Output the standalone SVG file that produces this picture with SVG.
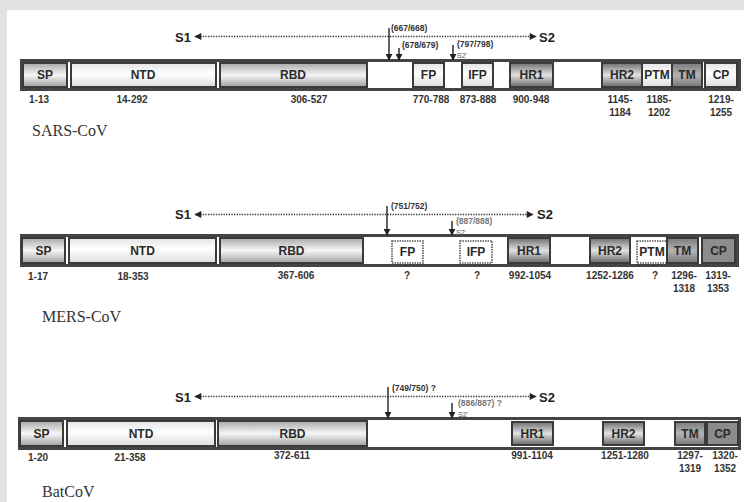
<svg xmlns="http://www.w3.org/2000/svg" width="744" height="502" viewBox="0 0 744 502">
<defs>
<linearGradient id="gLight" x1="0" y1="0" x2="0" y2="1"><stop offset="0" stop-color="#e4e4e4"/><stop offset="0.45" stop-color="#ffffff"/><stop offset="1" stop-color="#dcdcdc"/></linearGradient>
<linearGradient id="gMid" x1="0" y1="0" x2="0" y2="1"><stop offset="0" stop-color="#a8a8a8"/><stop offset="0.5" stop-color="#f6f6f6"/><stop offset="1" stop-color="#a0a0a0"/></linearGradient>
<linearGradient id="gDark" x1="0" y1="0" x2="0" y2="1"><stop offset="0" stop-color="#6e6e6e"/><stop offset="0.5" stop-color="#e2e2e2"/><stop offset="1" stop-color="#666666"/></linearGradient>
<linearGradient id="gTM" x1="0" y1="0" x2="0" y2="1"><stop offset="0" stop-color="#7a7a7a"/><stop offset="0.5" stop-color="#b4b4b4"/><stop offset="1" stop-color="#777777"/></linearGradient>
<marker id="ah" viewBox="0 0 10 10" refX="9" refY="5" markerWidth="9" markerHeight="7" orient="auto-start-reverse" markerUnits="userSpaceOnUse"><path d="M0,0 L10,5 L0,10 z" fill="#222"/></marker>
<marker id="ch" viewBox="0 0 10 10" refX="9" refY="5" markerWidth="7" markerHeight="7" orient="auto" markerUnits="userSpaceOnUse"><path d="M0,0 L10,5 L0,10 z" fill="#222"/></marker>
</defs>
<style>
.bar{fill:#ffffff;stroke:#444;stroke-width:3}
.box{stroke:#3a3a3a;stroke-width:2}
.dash{fill:#ffffff;stroke:#555;stroke-width:1.6;stroke-dasharray:1.5,1}
.dl{font-family:"Liberation Sans",Arial,sans-serif;font-weight:bold;font-size:12px;fill:#2a2a2a;text-anchor:middle}
.num{font-family:"Liberation Sans",Arial,sans-serif;font-weight:bold;font-size:10px;fill:#333;text-anchor:middle}
.sl{font-family:"Liberation Sans",Arial,sans-serif;font-weight:bold;font-size:13px;fill:#222}
.cl{font-family:"Liberation Sans",Arial,sans-serif;font-weight:bold;font-size:8.5px;fill:#333}
.faint{fill:#777}
.s2p{font-family:"Liberation Sans",Arial,sans-serif;font-size:7px;fill:#555}
.name{font-family:"Liberation Serif","Times New Roman",serif;font-size:16px;fill:#333}
.dot{stroke:#333;stroke-width:1.4;stroke-dasharray:1.3,1.3;fill:none}
.arr{stroke:#222;stroke-width:1.4;fill:none}
</style>
<rect x="0" y="0" width="744" height="502" fill="#e2e2e2"/>
<rect x="7" y="10" width="737" height="492" fill="#ffffff"/>

<!-- SARS-CoV -->
<g id="sars">
<rect class="bar" x="21.5" y="60.5" width="718" height="29"/>
<g id="sars-sp"><rect class="box" x="23" y="63" width="44" height="24" fill="url(#gMid)"/><text class="dl" x="45" y="79">SP</text></g>
<g id="sars-ntd"><rect class="box" x="71" y="63" width="145" height="24" fill="url(#gLight)"/><text class="dl" x="143" y="79">NTD</text></g>
<g id="sars-rbd"><rect class="box" x="220" y="63" width="147" height="24" fill="url(#gMid)"/><text class="dl" x="293" y="79">RBD</text></g>
<g id="sars-fp"><rect class="box" x="413" y="63" width="31" height="24" fill="url(#gLight)"/><text class="dl" x="428.5" y="79">FP</text></g>
<g id="sars-ifp"><rect class="box" x="462" y="63" width="31" height="24" fill="url(#gLight)"/><text class="dl" x="477.5" y="79">IFP</text></g>
<g id="sars-hr1"><rect class="box" x="510" y="63" width="43" height="24" fill="url(#gDark)"/><text class="dl" x="531.5" y="79">HR1</text></g>
<g id="sars-hr2"><rect class="box" x="602" y="63" width="40" height="24" fill="url(#gDark)"/><text class="dl" x="622" y="79">HR2</text></g>
<g id="sars-ptm"><rect class="box" x="642" y="63" width="30" height="24" fill="url(#gLight)"/><text class="dl" x="657" y="79">PTM</text></g>
<g id="sars-tm"><rect class="box" x="672" y="63" width="30" height="24" fill="url(#gTM)"/><text class="dl" x="687" y="79">TM</text></g>
<g id="sars-cp"><rect class="box" x="705" y="63" width="32" height="24" fill="url(#gLight)"/><text class="dl" x="721" y="79">CP</text></g>
<text class="num" x="39" y="103">1-13</text>
<text class="num" x="132" y="103">14-292</text>
<text class="num" x="309" y="103">306-527</text>
<text class="num" x="431" y="103">770-788</text>
<text class="num" x="478" y="103">873-888</text>
<text class="num" x="531" y="103">900-948</text>
<text class="num" x="620" y="103">1145-</text><text class="num" x="620" y="116">1184</text>
<text class="num" x="659" y="103">1185-</text><text class="num" x="659" y="116">1202</text>
<text class="num" x="721" y="103">1219-</text><text class="num" x="721" y="116">1255</text>
<text class="sl" x="175" y="41.5">S1</text>
<text class="sl" x="539" y="41.5">S2</text>
<text class="cl" x="391" y="31">(667/668)</text>
<text class="cl" x="402" y="48">(678/679)</text>
<text class="cl" x="457" y="47">(797/798)</text>
<text class="s2p" x="457" y="58">S2'</text>
<text class="name" x="32" y="136">SARS-CoV</text>
</g>

<!-- MERS-CoV -->
<g id="mers">
<rect class="bar" x="21.5" y="235.5" width="716" height="30"/>
<g id="mers-sp"><rect class="box" x="22" y="238" width="43" height="25" fill="url(#gMid)"/><text class="dl" x="43.5" y="255">SP</text></g>
<g id="mers-ntd"><rect class="box" x="69" y="238" width="147" height="25" fill="url(#gLight)"/><text class="dl" x="142.5" y="255">NTD</text></g>
<g id="mers-rbd"><rect class="box" x="220" y="238" width="143" height="25" fill="url(#gMid)"/><text class="dl" x="291.5" y="255">RBD</text></g>
<g id="mers-fp"><rect class="dash" x="392" y="241" width="31" height="22"/><text class="dl" x="407.5" y="256">FP</text></g>
<g id="mers-ifp"><rect class="dash" x="460" y="241" width="32" height="22"/><text class="dl" x="476" y="256">IFP</text></g>
<g id="mers-hr1"><rect class="box" x="508" y="238" width="42" height="25" fill="url(#gDark)"/><text class="dl" x="529" y="255">HR1</text></g>
<g id="mers-hr2"><rect class="box" x="590" y="238" width="40" height="25" fill="url(#gDark)"/><text class="dl" x="610" y="255">HR2</text></g>
<g id="mers-ptm"><rect class="dash" x="637" y="241" width="30" height="22"/><text class="dl" x="652" y="256">PTM</text></g>
<g id="mers-tm"><rect class="box" x="667" y="238" width="31" height="25" fill="url(#gTM)"/><text class="dl" x="682.5" y="255">TM</text></g>
<g id="mers-cp"><rect class="box" x="702" y="238" width="33" height="25" fill="#8c8c8c"/><text class="dl" x="718.5" y="255">CP</text></g>
<text class="num" x="38" y="280">1-17</text>
<text class="num" x="133" y="280">18-353</text>
<text class="num" x="296" y="279">367-606</text>
<text class="num" x="407" y="279">?</text>
<text class="num" x="477" y="279">?</text>
<text class="num" x="530" y="279">992-1054</text>
<text class="num" x="610" y="279">1252-1286</text>
<text class="num" x="655" y="279">?</text>
<text class="num" x="684" y="279">1296-</text><text class="num" x="684" y="292">1318</text>
<text class="num" x="718" y="279">1319-</text><text class="num" x="718" y="292">1353</text>
<text class="sl" x="175" y="219">S1</text>
<text class="sl" x="537" y="219">S2</text>
<text class="cl" x="391" y="209">(751/752)</text>
<text class="cl faint" x="456" y="223.5">(887/888)</text>
<text class="s2p" x="456" y="235">S2'</text>
<text class="name" x="42" y="322">MERS-CoV</text>
</g>

<!-- BatCoV -->
<g id="batcov">
<rect class="bar" x="19.5" y="418.5" width="720" height="30"/>
<g id="bat-sp"><rect class="box" x="20" y="421" width="43" height="25" fill="url(#gMid)"/><text class="dl" x="41.5" y="438">SP</text></g>
<g id="bat-ntd"><rect class="box" x="67" y="421" width="148" height="25" fill="url(#gLight)"/><text class="dl" x="141" y="438">NTD</text></g>
<g id="bat-rbd"><rect class="box" x="218" y="421" width="149" height="25" fill="url(#gMid)"/><text class="dl" x="292.5" y="438">RBD</text></g>
<g id="bat-hr1"><rect class="box" x="512" y="422" width="41" height="23" fill="url(#gDark)"/><text class="dl" x="532.5" y="438">HR1</text></g>
<g id="bat-hr2"><rect class="box" x="603" y="422" width="41" height="23" fill="url(#gDark)"/><text class="dl" x="623.5" y="438">HR2</text></g>
<g id="bat-tm"><rect class="box" x="675" y="422" width="30" height="23" fill="url(#gTM)"/><text class="dl" x="690" y="438">TM</text></g>
<g id="bat-cp"><rect class="box" x="707" y="422" width="31" height="23" fill="#8c8c8c"/><text class="dl" x="722.5" y="438">CP</text></g>
<text class="num" x="38" y="461">1-20</text>
<text class="num" x="130" y="461">21-358</text>
<text class="num" x="292" y="459">372-611</text>
<text class="num" x="532" y="459">991-1104</text>
<text class="num" x="625" y="459">1251-1280</text>
<text class="num" x="690" y="459">1297-</text><text class="num" x="690" y="472">1319</text>
<text class="num" x="725" y="459">1320-</text><text class="num" x="725" y="472">1352</text>
<text class="sl" x="175" y="401.5">S1</text>
<text class="sl" x="539" y="401.5">S2</text>
<text class="cl" x="392" y="391">(749/750) ?</text>
<text class="cl faint" x="458" y="406">(886/887) ?</text>
<text class="s2p" x="458" y="417">S2'</text>
<text class="name" x="42" y="497">BatCoV</text>
</g>

<g id="connectors">
<line class="dot" x1="195" y1="36.5" x2="536" y2="36.5" marker-start="url(#ah)" marker-end="url(#ah)"/>
<line class="arr" x1="389" y1="28" x2="389" y2="60" marker-end="url(#ch)"/>
<line class="arr" x1="399" y1="48" x2="399" y2="60" marker-end="url(#ch)"/>
<line class="arr" x1="453" y1="45" x2="453" y2="60" marker-end="url(#ch)"/>

<line class="dot" x1="195" y1="214.5" x2="533" y2="214.5" marker-start="url(#ah)" marker-end="url(#ah)"/>
<line class="arr" x1="387" y1="206" x2="387" y2="235" marker-end="url(#ch)"/>
<line class="arr" x1="452" y1="221" x2="452" y2="235" marker-end="url(#ch)"/>

<line class="dot" x1="195" y1="396.5" x2="536" y2="396.5" marker-start="url(#ah)" marker-end="url(#ah)"/>
<line class="arr" x1="388" y1="387" x2="388" y2="418" marker-end="url(#ch)"/>
<line class="arr" x1="452" y1="403" x2="452" y2="418" marker-end="url(#ch)"/>
</g>
</svg>
